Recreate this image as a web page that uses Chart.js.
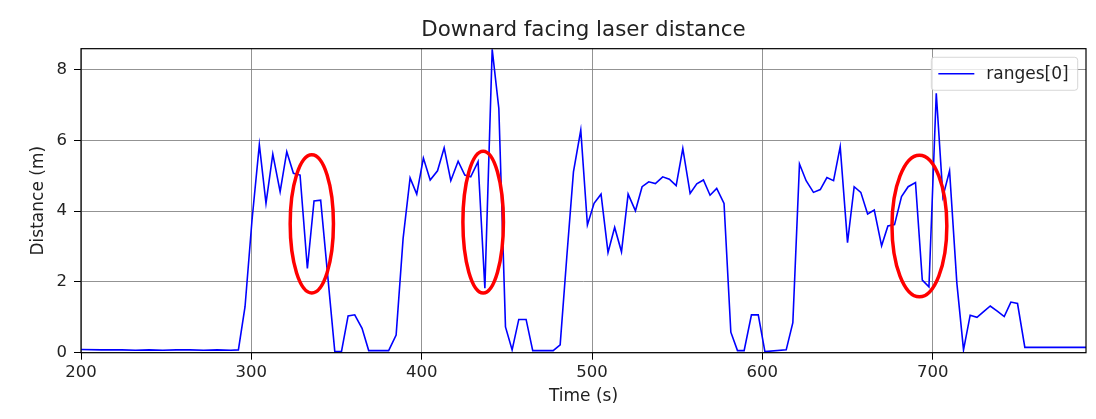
<!DOCTYPE html>
<html>
<head>
<meta charset="utf-8">
<script src="https://cdn.jsdelivr.net/npm/chart.js@4/dist/chart.umd.min.js"></script>
<style>
  html, body { margin: 0; padding: 0; background: #fff; }
  #wrap { width: 1096px; height: 419px; }
</style>
</head>
<body>
<div id="wrap"><canvas id="laserChart" width="1096" height="419"></canvas></div>
<script>
// time stamps (s) and downward laser range (m)
const times = [
  200, 212, 224, 232, 240, 248, 256, 264, 272, 280, 288, 292.4,
  296.3, 300.4, 304.7, 308.6, 312.6, 316.9, 320.8, 324.7, 328.6, 332.9,
  336.8, 340.7, 349.0, 352.9, 356.8, 360.7, 365.0, 368.9, 380.6, 385.0,
  389.1, 393.2, 397.1, 401.0, 405.0, 409.3, 413.2, 417.1, 421.4, 425.3,
  428.8, 433.1, 437.1, 441.4, 445.3, 449.2, 453.1, 457.0, 461.3, 465.2,
  477.2, 481.3, 485.2, 489.1, 493.4, 497.3, 501.2, 505.3, 509.4, 513.3,
  517.3, 521.2, 525.5, 529.4, 533.3, 537.2, 541.5, 545.4, 549.4, 553.3,
  557.6, 561.5, 565.4, 569.3, 573.2, 577.5, 581.5, 585.4, 589.3, 593.6,
  597.6, 601.5, 614.0, 617.9, 621.8, 625.7, 630.0, 634.0, 637.9, 641.8,
  645.7, 650.0, 653.9, 657.8, 661.8, 665.7, 670.0, 673.7, 677.6, 681.7,
  685.6, 689.9, 693.9, 697.8, 702.1, 706.0, 709.9, 714.2, 718.1, 722.0,
  726.0, 729.9, 733.8, 738.1, 742.0, 745.9, 749.8, 754.1, 790
];
const ranges0 = [
  0.09, 0.08, 0.08, 0.07, 0.08, 0.07, 0.08, 0.08, 0.07, 0.08, 0.07, 0.08,
  1.30, 3.75, 5.88, 4.22, 5.61, 4.55, 5.68, 5.07, 5.02, 2.38,
  4.29, 4.31, 0.03, 0.03, 1.04, 1.07, 0.69, 0.06, 0.06, 0.50,
  3.23, 4.94, 4.48, 5.50, 4.88, 5.14, 5.79, 4.86, 5.41, 5.02,
  4.97, 5.40, 1.82, 8.57, 6.90, 0.73, 0.08, 0.94, 0.94, 0.06,
  0.06, 0.22, 2.71, 5.11, 6.29, 3.61, 4.22, 4.48, 2.83, 3.54,
  2.85, 4.48, 4.01, 4.69, 4.83, 4.78, 4.97, 4.90, 4.72, 5.77,
  4.50, 4.77, 4.88, 4.45, 4.64, 4.22, 0.58, 0.06, 0.06, 1.07,
  1.07, 0.03, 0.08, 0.85, 5.33, 4.86, 4.53, 4.61, 4.95, 4.86,
  5.82, 3.11, 4.69, 4.53, 3.92, 4.03, 3.02, 3.58, 3.62, 4.41,
  4.69, 4.81, 2.05, 1.86, 7.33, 4.41, 5.14, 1.96, 0.08, 1.06,
  1.00, 1.16, 1.32, 1.17, 1.02, 1.43, 1.39, 0.15, 0.15
];

// red ellipses marking the dropouts (centre and half-extent in data units)
const markTime = [335.5, 436.1, 692.2];
const markDist = [3.64, 3.69, 3.58];
const markHalfTime = [12.7, 11.9, 16.1];
const markHalfDist = [1.95, 2.0, 2.0];

const xTicks = [200, 300, 400, 500, 600, 700];
const yTicks = [0, 2, 4, 6, 8];

const FONT = "'DejaVu Sans', sans-serif";
const TEXT = "#222";

const points = times.map((t, i) => ({ x: t, y: ranges0[i] }));

const framePlugin = {
  id: "frame",
  afterDatasetsDraw(chart) {
    const { ctx, chartArea: a, scales } = chart;
    ctx.save();
    // ellipses
    ctx.strokeStyle = "#ff0000";
    ctx.lineWidth = 3.5;
    markTime.forEach((t, i) => {
      const cx = scales.x.getPixelForValue(t);
      const cy = scales.y.getPixelForValue(markDist[i]);
      const rx = Math.abs(scales.x.getPixelForValue(t + markHalfTime[i]) - cx);
      const ry = Math.abs(scales.y.getPixelForValue(markDist[i] + markHalfDist[i]) - cy);
      ctx.beginPath();
      ctx.ellipse(cx, cy, rx, ry, 0, 0, Math.PI * 2);
      ctx.stroke();
    });
    // axes box
    ctx.strokeStyle = "#000";
    ctx.lineWidth = 1.2;
    ctx.strokeRect(a.left, a.top, a.right - a.left, a.bottom - a.top);

    // legend
    const ds = chart.data.datasets[0];
    ctx.font = "17px " + FONT;
    const tw = ctx.measureText(ds.label).width;
    const w = 7 + 36 + 12 + tw + 9;
    const h = 33;
    const x0 = a.right - 8.3 - w;
    const y0 = a.top + 8.6;
    ctx.beginPath();
    ctx.roundRect(x0, y0, w, h, 3);
    ctx.fillStyle = "rgba(255,255,255,0.8)";
    ctx.fill();
    ctx.strokeStyle = "rgba(204,204,204,0.8)";
    ctx.lineWidth = 1;
    ctx.stroke();
    ctx.strokeStyle = ds.borderColor;
    ctx.lineWidth = ds.borderWidth;
    ctx.beginPath();
    ctx.moveTo(x0 + 7, y0 + h / 2);
    ctx.lineTo(x0 + 43, y0 + h / 2);
    ctx.stroke();
    ctx.fillStyle = TEXT;
    ctx.textBaseline = "middle";
    ctx.fillText(ds.label, x0 + 55, y0 + h / 2 + 0.5);
    ctx.restore();
  }
};

new Chart(document.getElementById("laserChart"), {
  type: "line",
  data: {
    datasets: [{
      label: "ranges[0]",
      data: points,
      borderColor: "#0000ff",
      borderWidth: 1.6,
      pointRadius: 0,
      tension: 0,
      fill: false
    }]
  },
  options: {
    responsive: false,
    animation: false,
    devicePixelRatio: 1,
    layout: { padding: { left: 0, right: 10, top: 0, bottom: 0 } },
    plugins: {
      legend: { display: false },
      tooltip: { enabled: false },
      title: {
        display: true,
        fullSize: false,
        text: "Downard facing laser distance",
        color: TEXT,
        font: { family: FONT, size: 21.4, weight: "normal", lineHeight: 1.2 },
        padding: { top: 17.5, bottom: 5.5 }
      }
    },
    scales: {
      x: {
        type: "linear",
        min: 200,
        max: 790,
        afterBuildTicks: (s) => { s.ticks = xTicks.map(v => ({ value: v })); },
        afterFit: (s) => { s.height = 419 - 352.7; },
        grid: { color: "rgba(128,128,128,0.85)", lineWidth: 1, tickLength: 7, tickColor: "#000" },
        border: { display: false },
        ticks: { color: TEXT, font: { family: FONT, size: 16.5 }, padding: 3, maxRotation: 0 },
        title: {
          display: true,
          text: "Time (s)",
          color: TEXT,
          font: { family: FONT, size: 17 },
          padding: { top: 0, bottom: 12 }
        }
      },
      y: {
        type: "linear",
        min: 0,
        max: 8.59,
        afterBuildTicks: (s) => { s.ticks = yTicks.map(v => ({ value: v })); },
        afterFit: (s) => { s.width = 81; },
        grid: { color: "rgba(128,128,128,0.85)", lineWidth: 1, tickLength: 7, tickColor: "#000" },
        border: { display: false },
        ticks: { color: TEXT, font: { family: FONT, size: 16.5 }, padding: 7 },
        title: {
          display: true,
          text: "Distance (m)",
          color: TEXT,
          font: { family: FONT, size: 17 },
          padding: { top: 28, bottom: 0 }
        }
      }
    }
  },
  plugins: [framePlugin]
});
</script>
</body>
</html>
